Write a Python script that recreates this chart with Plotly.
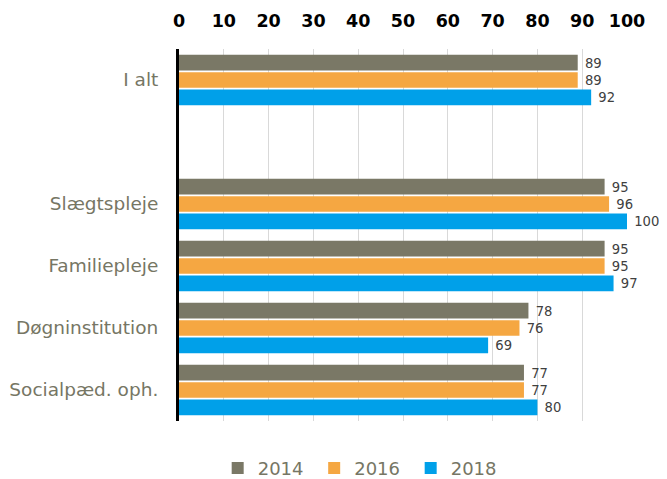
import plotly.graph_objects as go

categories = ["I alt", " ", "Slægtspleje", "Familiepleje", "Døgninstitution", "Socialpæd. oph."]
years = ["2014", "2016", "2018"]
v2014 = [89, None, 95, 95, 78, 77]
v2016 = [89, None, 96, 95, 76, 77]
v2018 = [92, None, 100, 97, 69, 80]
colors = ["#7a7866", "#f5a742", "#00a0e9"]
xticks = [0, 10, 20, 30, 40, 50, 60, 70, 80, 90, 100]

fig = go.Figure()
for name, vals, col in zip(years, [v2014, v2016, v2018], colors):
    fig.add_trace(go.Bar(
        y=categories, x=vals, name=name, orientation="h",
        marker=dict(color=col, line=dict(width=0)),
        text=[("" if v is None else "\u00a0" + str(v)) for v in vals],
        textposition="outside", cliponaxis=False,
        textfont=dict(family="DejaVu Sans", size=13.5, color="#404040"),
    ))

fig.update_layout(
    width=667, height=479,
    margin=dict(l=171, r=48, t=41, b=66, autoexpand=False),
    paper_bgcolor="white", plot_bgcolor="white",
    barmode="group", bargap=0.16, bargroupgap=0.1,
    font=dict(family="DejaVu Sans", color="#767664"),
    legend=dict(orientation="h", x=0.41, xanchor="center", y=-0.127, yanchor="middle",
                font=dict(size=18, color="#767664"), traceorder="normal",
                itemwidth=30, entrywidth=51.5, entrywidthmode="pixels"),
    showlegend=True,
)
fig.update_xaxes(
    side="top", range=[0, 100], tickvals=xticks, ticktext=[str(t) for t in xticks],
    tickfont=dict(family="DejaVu Sans", size=17.5, color="black", weight="bold"),
    showgrid=True, gridcolor="#d9d9d9", gridwidth=1, zeroline=False,
    showline=False, ticks="", ticklabelstandoff=18, automargin=False,
)
fig.update_yaxes(
    autorange="reversed", type="category",
    tickfont=dict(family="DejaVu Sans", size=18.5, color="#767664"),
    showline=True, linecolor="black", linewidth=3, showgrid=False, zeroline=False,
    ticks="", ticklabelstandoff=14, automargin=False,
)
fig.write_html("out.html")
